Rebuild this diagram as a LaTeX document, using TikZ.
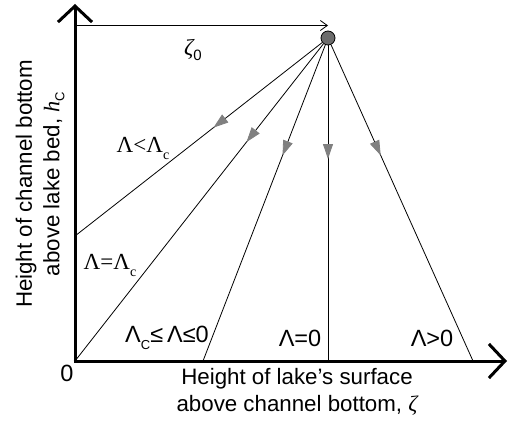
\documentclass[tikz,border=0pt]{standalone}
\usepackage{fontspec}
\setmainfont{Liberation Sans}
\newfontfamily\serifL{Liberation Serif}
\usetikzlibrary{arrows.meta,decorations.markings}
\tikzset{
  axis/.style={line width=3pt,-{Straight Barb[length=16pt,width=34pt,line width=3pt]}},
  ray/.style={line width=0.8pt,postaction={decorate},decoration={markings,mark=at position #1 with {\arrow{Triangle[length=15pt,width=10pt,color=gray]}}}},
  lbl/.style={inner sep=0pt,font=\fontsize{23.5}{26}\selectfont},
  slbl/.style={inner sep=0pt,font=\fontsize{23}{26}\selectfont\serifL},
  ttl/.style={inner sep=0pt,align=center,font=\fontsize{22.3}{27.5}\selectfont},
}
\begin{document}
\begin{tikzpicture}[x=1pt,y=-1pt]
\useasboundingbox (0,0) rectangle (514,422);
\coordinate (O) at (75,361);
\coordinate (Ytop) at (75,4);
\coordinate (Xend) at (507,361);
\draw[axis] (75,362.5) -- (Ytop);
\draw[axis] (73.5,361) -- (Xend);
\node[circle,draw=black,fill=gray!85!black,line width=0.8pt,minimum size=14pt,inner sep=0pt] (P) at (328,38) {};
\coordinate (Zs) at (75,25.5);
\coordinate (Ze) at (328,25.5);
\draw[line width=0.8pt,-{Straight Barb[length=7pt,width=10pt]}] (Zs) -- (Ze);
\coordinate (E1) at (75,236);
\coordinate (E3) at (203,361);
\coordinate (E4) at (328,361);
\coordinate (E5) at (473,361);
\draw[ray=0.44] (P) -- (E1);
\draw[ray=0.31] (P) -- (O);
\draw[ray=0.35] (P) -- (E3);
\draw[ray=0.36] (P) -- (E4);
\draw[ray=0.35] (P) -- (E5);
\node[slbl] (z0) at (193,50) {{\itshape ζ}\raisebox{-5pt}{\fontsize{15}{15}\selectfont\rmfamily 0}};
\node[slbl] (l1) at (143,148) {Λ<Λ\raisebox{-7pt}{\fontsize{14}{14}\selectfont c}};
\node[slbl] (l2) at (110,265) {Λ=Λ\raisebox{-7pt}{\fontsize{14}{14}\selectfont c}};
\node[lbl] (l3) at (167,338) {Λ\raisebox{-7pt}{\fontsize{13}{13}\selectfont C}≤\,Λ≤0};
\node[lbl] (l4) at (300,338) {Λ=0};
\node[lbl] (l5) at (432,338) {Λ>0};
\node[lbl] (zero) at (67,373) {0};
\node[ttl] (xl) at (297,392) {Height of lake’s surface\\above channel bottom, {\serifL\itshape ζ}};
\node[ttl,rotate=90] (yl) at (40,184) {Height of channel bottom\\above lake bed, {\serifL\itshape h}\raisebox{-5pt}{\fontsize{13}{13}\selectfont C}};
\end{tikzpicture}
\end{document}
